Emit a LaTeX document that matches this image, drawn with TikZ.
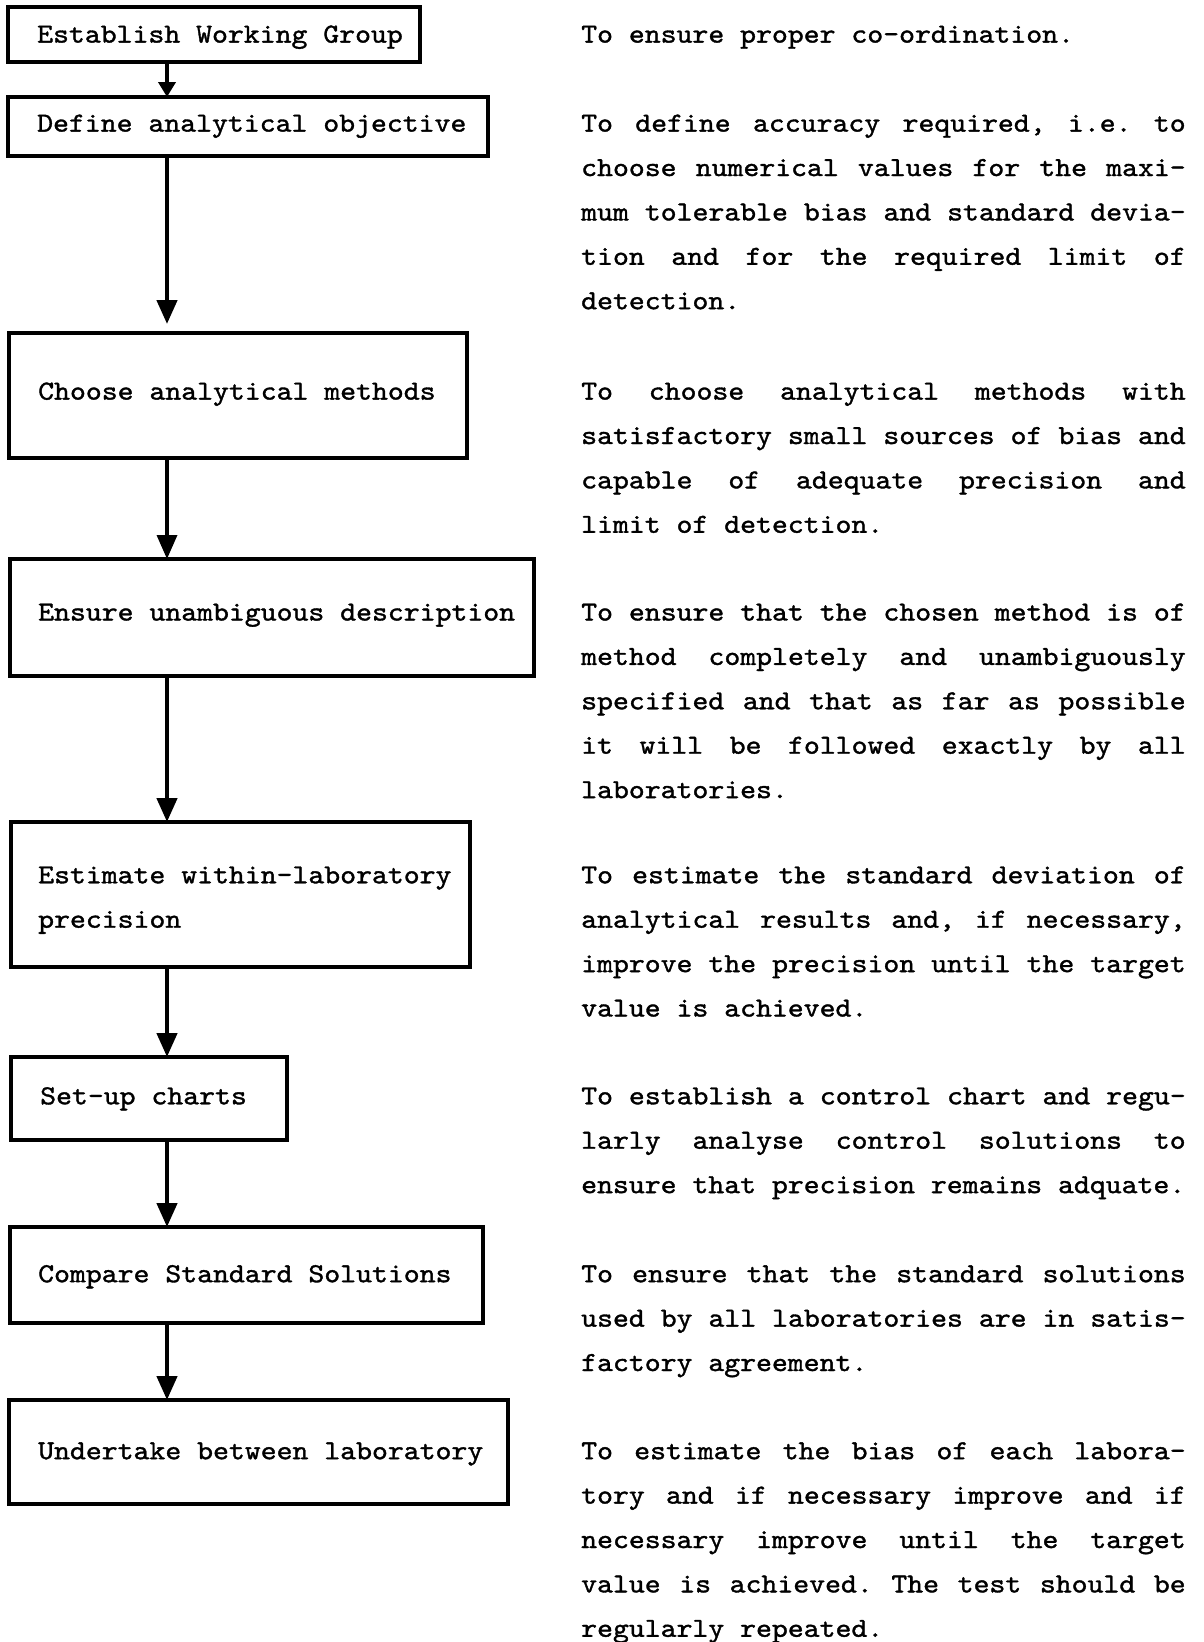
\documentclass[tikz,border=0pt]{standalone}
\usepackage{fontspec}
\usetikzlibrary{arrows.meta}
\newfontfamily\tw{lmmono10-regular.otf}[FakeBold=1.3,FakeStretch=1.101]
\newcommand\tfont{\tw\fontsize{27.5pt}{44.4pt}\selectfont\frenchspacing}
\newcommand\sk{\spaceskip=15.9pt\relax\xspaceskip=15.9pt\relax}
\newlength\colw
\setlength\colw{604.5pt}
\newcommand\jl[1]{\makebox[\colw][s]{\spaceskip=15.9pt plus 1fil\relax\xspaceskip=15.9pt plus 1fil\relax #1}}
\begin{document}
\begin{tikzpicture}[x=1pt,y=-1pt,
  box/.style={draw, line width=3.8pt, inner sep=0pt, outer sep=0pt, anchor=north west},
  lbl/.style={inner sep=0pt, anchor=base west, font=\tfont, align=left, text width=520pt},
  desc/.style={inner sep=0pt, anchor=base west, font=\tfont, align=left, text width=620pt},
  arr/.style={line width=4.5pt, -{Triangle[length=24pt,width=20pt]}}]
\useasboundingbox (0,0) rectangle (1204,1642);
\coordinate (ax) at (167,0);
% boxes
\node[box, minimum width=412pt, minimum height=55pt]  (b1) at (8,7) {};
\node[box, minimum width=480pt, minimum height=59pt]  (b2) at (8,97) {};
\node[box, minimum width=458pt, minimum height=125pt] (b3) at (9,333) {};
\node[box, minimum width=524pt, minimum height=117pt] (b4) at (10,559) {};
\node[box, minimum width=459pt, minimum height=145pt] (b5) at (11,822) {};
\node[box, minimum width=276pt, minimum height=83pt]  (b6) at (11,1057) {};
\node[box, minimum width=473pt, minimum height=96pt]  (b7) at (10,1227) {};
\node[box, minimum width=499pt, minimum height=104pt] (b8) at (9,1400) {};
% box texts
\node[lbl] (l1) at (37,42.6) {\sk Establish Working Group};
\node[lbl] (l2) at (37,131.6) {\sk Define analytical objective};
\node[lbl] (l3) at (38,399.6) {\sk Choose analytical methods};
\node[lbl] (l4) at (38,620.5) {\sk Ensure unambiguous description};
\node[lbl] (l5) at (38,883.3) {\sk Estimate within-laboratory\\precision};
\node[lbl] (l6) at (40,1104.3) {\sk Set-up charts};
\node[lbl] (l7) at (38,1282.2) {\sk Compare Standard Solutions};
\node[lbl] (l8) at (38,1459.2) {\sk Undertake between laboratory};
% arrows
\draw[arr, -{Triangle[length=15pt,width=17pt]}] (b1.south -| ax) -- (b2.north -| ax);
\draw[arr, shorten >=9pt] (b2.south -| ax) -- (b3.north -| ax);
\draw[arr, line width=3.5pt] (b3.south -| ax) -- (b4.north -| ax);
\draw[arr] (b4.south -| ax) -- (b5.north -| ax);
\draw[arr] (b5.south -| ax) -- (b6.north -| ax);
\draw[arr] (b6.south -| ax) -- (b7.north -| ax);
\draw[arr] (b7.south -| ax) -- (b8.north -| ax);
% descriptions
\node[desc] (d1) at (581,42.6) {\sk To ensure proper co-ordination.};
\node[desc] (d2) at (581,131.6) {\sk\jl{To define accuracy required, i.e. to}\\
\jl{choose numerical values for the maxi-}\\
\jl{mum tolerable bias and standard devia-}\\
\jl{tion and for the required limit of}\\
detection.};
\node[desc] (d3) at (581,399.6) {\sk\jl{To choose analytical methods with}\\
\jl{satisfactory small sources of bias and}\\
\jl{capable of adequate precision and}\\
limit of detection.};
\node[desc] (d4) at (581,620.5) {\sk\jl{To ensure that the chosen method is of}\\
\jl{method completely and unambiguously}\\
\jl{specified and that as far as possible}\\
\jl{it will be followed exactly by all}\\
laboratories.};
\node[desc] (d5) at (581,883.3) {\sk\jl{To estimate the standard deviation of}\\
\jl{analytical results and, if necessary,}\\
\jl{improve the precision until the target}\\
value is achieved.};
\node[desc] (d6) at (581,1104.3) {\sk\jl{To establish a control chart and regu-}\\
\jl{larly analyse control solutions to}\\
ensure that precision remains adquate.};
\node[desc] (d7) at (581,1282.2) {\sk\jl{To ensure that the standard solutions}\\
\jl{used by all laboratories are in satis-}\\
factory agreement.};
\node[desc] (d8) at (581,1459.2) {\sk\jl{To estimate the bias of each labora-}\\
\jl{tory and if necessary improve and if}\\
\jl{necessary improve until the target}\\
\jl{value is achieved. The test should be}\\
regularly repeated.};
\end{tikzpicture}
\end{document}
